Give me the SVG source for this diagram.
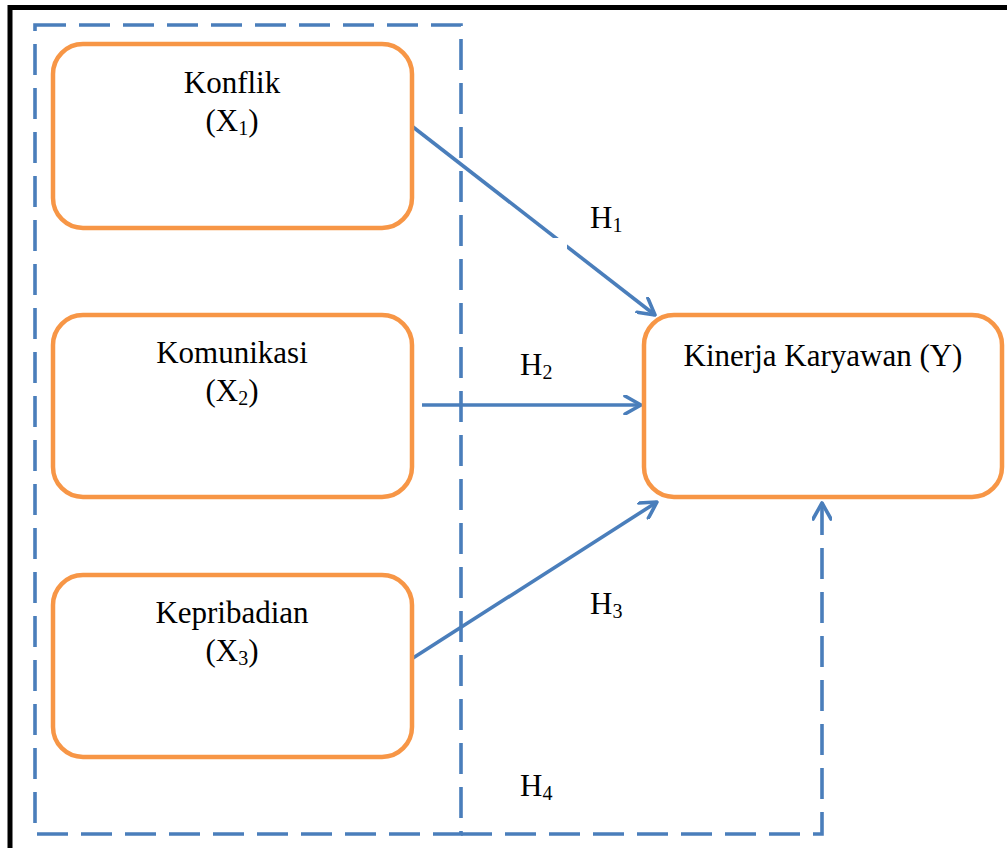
<svg xmlns="http://www.w3.org/2000/svg" width="1007" height="848" viewBox="0 0 1007 848">
<defs>
<style>
.box{fill:#fff;stroke:#F79646;stroke-width:4.5}
.conn{fill:none;stroke:#4A7EBB;stroke-width:3.6}
.dash{fill:none;stroke:#4A7EBB;stroke-width:3.6;stroke-dasharray:31 13}
.t{font-family:"Liberation Serif","Times New Roman",serif;font-size:31px;fill:#000}
.sub{font-size:20px}
</style>
<marker id="arr" viewBox="0 0 20 20" refX="18" refY="10" markerWidth="20" markerHeight="20" markerUnits="userSpaceOnUse" orient="auto">
<path d="M2,1 L18,10 L2,19" fill="none" stroke="#4A7EBB" stroke-width="3.6" stroke-linecap="round" stroke-linejoin="round"/>
</marker>
</defs>
<rect width="1007" height="848" fill="#fff"/>
<path d="M10,848 V7.5 H1007" fill="none" stroke="#000" stroke-width="5"/>
<rect id="group-x" x="35" y="25" width="426" height="809" class="dash"/>
<g id="connectors">
<path d="M413,127 L655,315" class="conn" marker-end="url(#arr)"/>
<path d="M422,405 L641,405" class="conn" marker-end="url(#arr)"/>
<path d="M413,658 L657,502" class="conn" marker-end="url(#arr)"/>
<path d="M461,834 H822 V503" class="dash" marker-end="url(#arr)"/>
<rect x="553" y="238" width="14" height="14" fill="#fff"/>
</g>
<g id="node-x1">
<rect x="53" y="44" width="359" height="184" rx="30" class="box"/>
<text class="t" x="232" y="93" text-anchor="middle">Konflik</text>
<text class="t" x="232" y="131" text-anchor="middle">(X<tspan class="sub" dy="4">1</tspan><tspan dy="-4">)</tspan></text>
</g>
<g id="node-x2">
<rect x="53" y="315" width="359" height="182" rx="30" class="box"/>
<text class="t" x="232" y="363" text-anchor="middle">Komunikasi</text>
<text class="t" x="232" y="401" text-anchor="middle">(X<tspan class="sub" dy="4">2</tspan><tspan dy="-4">)</tspan></text>
</g>
<g id="node-x3">
<rect x="53" y="575" width="359" height="182" rx="30" class="box"/>
<text class="t" x="232" y="623" text-anchor="middle">Kepribadian</text>
<text class="t" x="232" y="661" text-anchor="middle">(X<tspan class="sub" dy="4">3</tspan><tspan dy="-4">)</tspan></text>
</g>
<g id="node-y">
<rect x="644" y="315" width="358" height="182" rx="30" class="box"/>
<text class="t" x="823" y="366" text-anchor="middle">Kinerja Karyawan (Y)</text>
</g>
<g id="labels">
<text class="t" x="590" y="228">H<tspan class="sub" dy="4">1</tspan></text>
<text class="t" x="520" y="375">H<tspan class="sub" dy="4">2</tspan></text>
<text class="t" x="590" y="614">H<tspan class="sub" dy="4">3</tspan></text>
<text class="t" x="520" y="796">H<tspan class="sub" dy="4">4</tspan></text>
</g>
</svg>
